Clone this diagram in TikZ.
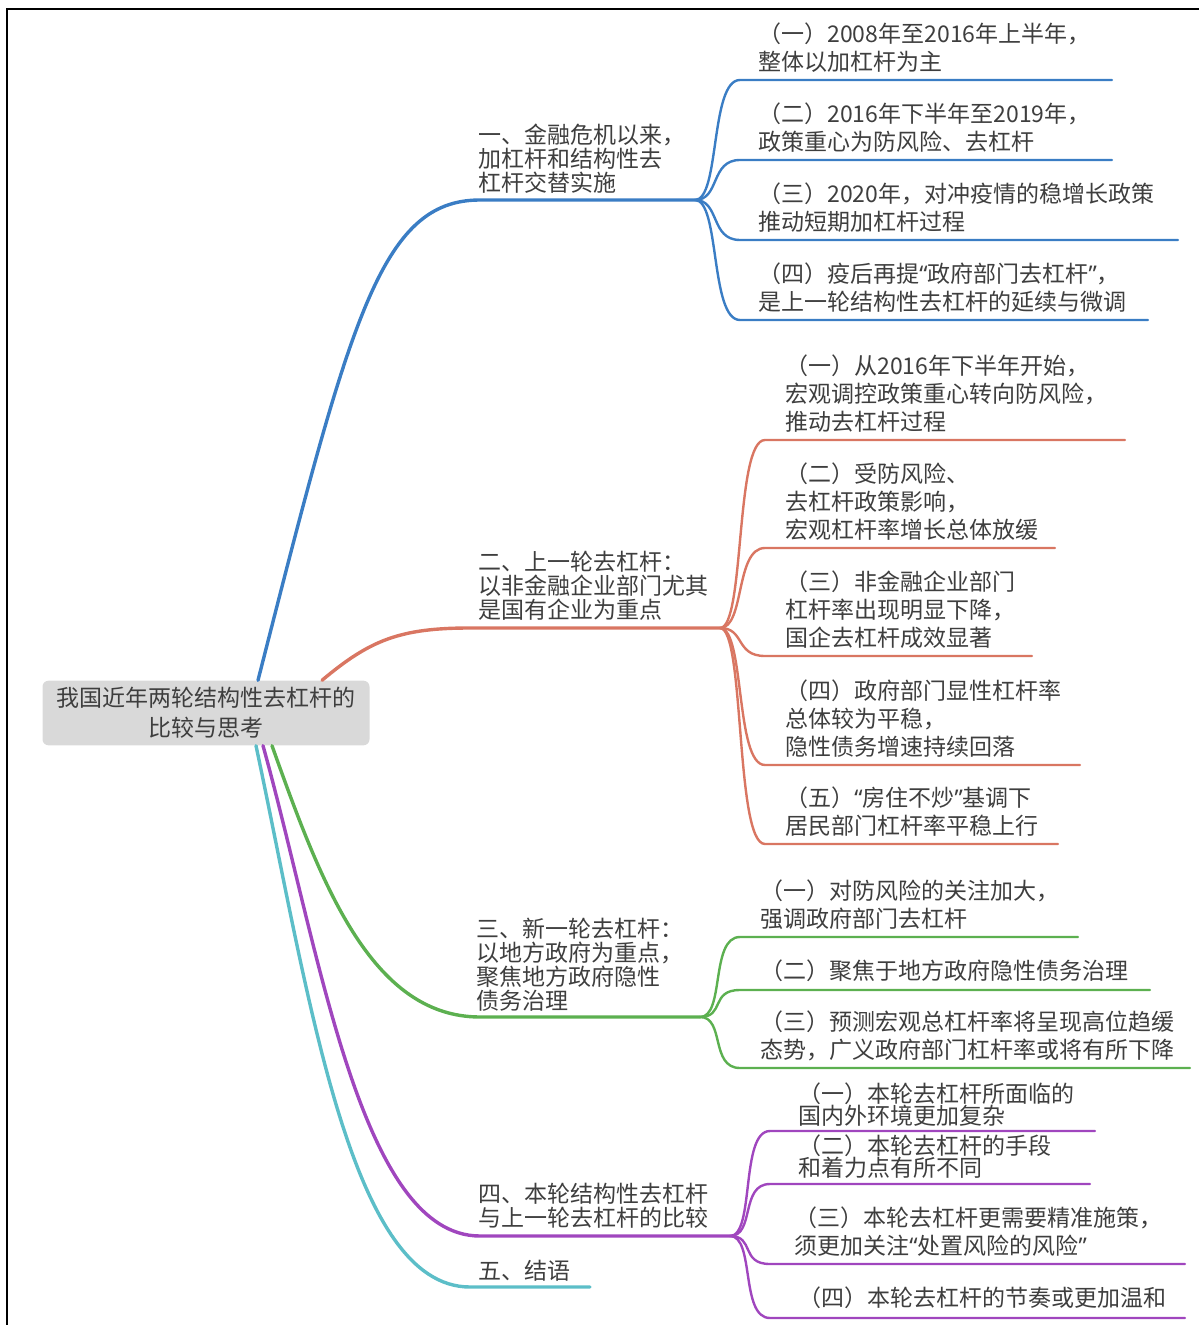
\documentclass[tikz,border=0pt]{standalone}
\usepackage{fontspec}
\setmainfont{Noto Sans CJK SC}
\newfontfamily\qfont{Noto Sans}
\newcommand{\oq}{{\qfont “}}
\newcommand{\cq}{{\qfont ”}}
\definecolor{txt}{RGB}{62,62,62}
\definecolor{rootgray}{RGB}{217,217,217}
\definecolor{cblue}{RGB}{58,125,196}
\definecolor{cred}{RGB}{217,118,98}
\definecolor{cgreen}{RGB}{92,176,80}
\definecolor{cpurple}{RGB}{160,70,190}
\definecolor{ccyan}{RGB}{92,190,200}
\begin{document}
\begin{tikzpicture}[x=0.5pt, y=-0.5pt,
    root/.style = {fill=rootgray, rounded corners=3pt, minimum width=163.5pt, minimum height=31pt, align=center, text=txt, font=\fontsize{11.5}{15}\selectfont},
    topic/.style = {anchor=south west, inner sep=0pt, text depth=0pt, align=left, text=txt, font=\fontsize{11.5}{12}\selectfont},
    leaf/.style = {anchor=south west, inner sep=0pt, text depth=0pt, align=left, text=txt, font=\fontsize{11.5}{14}\selectfont},
    tight/.style = {leaf, font=\fontsize{11.5}{11.3}\selectfont},
    branch/.style = {line width=1.7pt, line cap=round},
    twig/.style = {line width=1.2pt, line cap=round}]
    \useasboundingbox (0,0) rectangle (1198,1325);
    \draw[line width=1pt] (7,1330) -- (7,9) -- (1200,9);

    % root
    \node[root] (0) at (206,713) {我国近年两轮结构性去杠杆的\\比较与思考};

    % 一
    \coordinate (1f) at (695,200);
    \node[topic] (1) at (478,192) {一、金融危机以来，\\加杠杆和结构性去\\杠杆交替实施};
    \draw[branch, cblue] ([xshift=26pt]0.north) .. controls (350,320) and (380,200) .. (480,200) -- (1f);
    \coordinate (11s) at (740,80);  \coordinate (11e) at (1112,80);
    \coordinate (12s) at (740,160); \coordinate (12e) at (1112,160);
    \coordinate (13s) at (740,240); \coordinate (13e) at (1178,240);
    \coordinate (14s) at (740,320); \coordinate (14e) at (1148,320);
    \node[leaf] (11) at (758,71) {（一）2008年至2016年上半年，\\整体以加杠杆为主};
    \node[leaf] (12) at (758,151) {（二）2016年下半年至2019年，\\政策重心为防风险、去杠杆};
    \node[leaf] (13) at (758,231) {（三）2020年，对冲疫情的稳增长政策\\推动短期加杠杆过程};
    \node[leaf] (14) at (758,311) {（四）疫后再提\oq 政府部门去杠杆\cq ，\\是上一轮结构性去杠杆的延续与微调};
    \draw[twig, cblue] (1f) .. controls +(25,0) and +(-30,0) .. (11s) -- (11e);
    \draw[twig, cblue] (1f) .. controls +(25,0) and +(-30,0) .. (12s) -- (12e);
    \draw[twig, cblue] (1f) .. controls +(25,0) and +(-30,0) .. (13s) -- (13e);
    \draw[twig, cblue] (1f) .. controls +(25,0) and +(-30,0) .. (14s) -- (14e);

    % 二
    \coordinate (2f) at (720,628);
    \node[topic] (2) at (478,619) {二、上一轮去杠杆：\\以非金融企业部门尤其\\是国有企业为重点};
    \draw[branch, cred] ([xshift=58pt]0.north) .. controls (370,640) and (400,628) .. (470,628) -- (2f);
    \coordinate (21s) at (765,440); \coordinate (21e) at (1125,440);
    \coordinate (22s) at (765,548); \coordinate (22e) at (1055,548);
    \coordinate (23s) at (765,656); \coordinate (23e) at (1032,656);
    \coordinate (24s) at (765,765); \coordinate (24e) at (1080,765);
    \coordinate (25s) at (765,844); \coordinate (25e) at (1058,844);
    \node[leaf] (21) at (785,431) {（一）从2016年下半年开始，\\宏观调控政策重心转向防风险，\\推动去杠杆过程};
    \node[leaf] (22) at (785,539) {（二）受防风险、\\去杠杆政策影响，\\宏观杠杆率增长总体放缓};
    \node[leaf] (23) at (785,647) {（三）非金融企业部门\\杠杆率出现明显下降，\\国企去杠杆成效显著};
    \node[leaf] (24) at (785,756) {（四）政府部门显性杠杆率\\总体较为平稳，\\隐性债务增速持续回落};
    \node[leaf] (25) at (785,835) {（五）\oq 房住不炒\cq 基调下\\居民部门杠杆率平稳上行};
    \draw[twig, cred] (2f) .. controls +(25,0) and +(-30,0) .. (21s) -- (21e);
    \draw[twig, cred] (2f) .. controls +(25,0) and +(-30,0) .. (22s) -- (22e);
    \draw[twig, cred] (2f) .. controls +(25,0) and +(-30,0) .. (23s) -- (23e);
    \draw[twig, cred] (2f) .. controls +(25,0) and +(-30,0) .. (24s) -- (24e);
    \draw[twig, cred] (2f) .. controls +(25,0) and +(-30,0) .. (25s) -- (25e);

    % 三
    \coordinate (3f) at (700,1017);
    \node[topic] (3) at (476,1010) {三、新一轮去杠杆：\\以地方政府为重点，\\聚焦地方政府隐性\\债务治理};
    \draw[branch, cgreen] ([xshift=33pt]0.south) .. controls (320,880) and (370,1017) .. (480,1017) -- (3f);
    \coordinate (31s) at (740,937);  \coordinate (31e) at (1078,937);
    \coordinate (32s) at (740,990);  \coordinate (32e) at (1150,990);
    \coordinate (33s) at (740,1068); \coordinate (33e) at (1190,1068);
    \node[leaf] (31) at (760,928) {（一）对防风险的关注加大，\\强调政府部门去杠杆};
    \node[leaf] (32) at (760,980) {（二）聚焦于地方政府隐性债务治理};
    \node[leaf] (33) at (760,1059) {（三）预测宏观总杠杆率将呈现高位趋缓\\态势，广义政府部门杠杆率或将有所下降};
    \draw[twig, cgreen] (3f) .. controls +(25,0) and +(-30,0) .. (31s) -- (31e);
    \draw[twig, cgreen] (3f) .. controls +(25,0) and +(-30,0) .. (32s) -- (32e);
    \draw[twig, cgreen] (3f) .. controls +(25,0) and +(-30,0) .. (33s) -- (33e);

    % 四
    \coordinate (4f) at (730,1236);
    \node[topic] (4) at (478,1227) {四、本轮结构性去杠杆\\与上一轮去杠杆的比较};
    \draw[branch, cpurple] ([xshift=28.5pt]0.south) .. controls (320,950) and (360,1236) .. (480,1236) -- (4f);
    \coordinate (41s) at (770,1131); \coordinate (41e) at (1095,1131);
    \coordinate (42s) at (770,1184); \coordinate (42e) at (1090,1184);
    \coordinate (43s) at (770,1264); \coordinate (43e) at (1185,1264);
    \coordinate (44s) at (770,1318); \coordinate (44e) at (1185,1318);
    \node[tight] (41) at (798,1125) {（一）本轮去杠杆所面临的\\国内外环境更加复杂};
    \node[tight] (42) at (798,1177) {（二）本轮去杠杆的手段\\和着力点有所不同};
    \node[leaf] (43) at (794,1255) {（三）本轮去杠杆更需要精准施策，\\须更加关注\oq 处置风险的风险\cq};
    \node[leaf] (44) at (798,1307) {（四）本轮去杠杆的节奏或更加温和};
    \draw[twig, cpurple] (4f) .. controls +(25,0) and +(-30,0) .. (41s) -- (41e);
    \draw[twig, cpurple] (4f) .. controls +(25,0) and +(-30,0) .. (42s) -- (42e);
    \draw[twig, cpurple] (4f) .. controls +(25,0) and +(-30,0) .. (43s) -- (43e);
    \draw[twig, cpurple] (4f) .. controls +(25,0) and +(-30,0) .. (44s) -- (44e);

    % 五
    \coordinate (5f) at (590,1287);
    \node[topic] (5) at (478,1280) {五、结语};
    \draw[branch, ccyan] ([xshift=25pt]0.south) .. controls (310,1000) and (350,1287) .. (470,1287) -- (5f);
\end{tikzpicture}
\end{document}
